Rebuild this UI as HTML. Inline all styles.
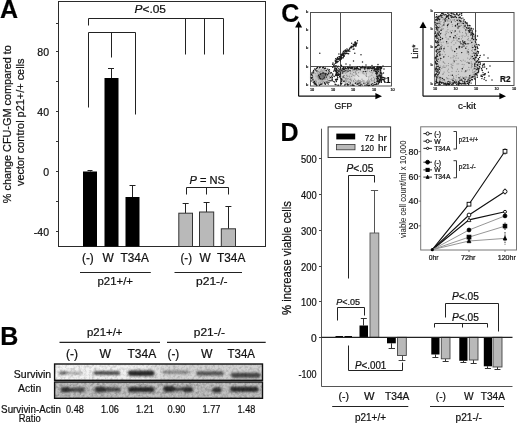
<!DOCTYPE html>
<html><head><meta charset="utf-8"><title>Figure</title>
<style>html,body{margin:0;padding:0;background:#fff;}svg{display:block;font-family:"Liberation Sans", sans-serif;filter:grayscale(1) blur(0.35px);}text{stroke:#111;stroke-width:0.22px;}</style>
</head><body>
<svg width="520" height="424" viewBox="0 0 520 424">
<rect width="520" height="424" fill="#fff"/>
<text x="0" y="17.8" font-size="25" text-anchor="start" font-weight="bold" fill="#000">A</text>
<rect x="58.5" y="1.5" width="207" height="245" fill="none" stroke="#2a2a2a" stroke-width="1"/>
<line x1="56" y1="23.5" x2="58.5" y2="23.5" stroke="#333" stroke-width="1"/>
<line x1="56" y1="51.5" x2="58.5" y2="51.5" stroke="#333" stroke-width="1"/>
<line x1="56" y1="81.5" x2="58.5" y2="81.5" stroke="#333" stroke-width="1"/>
<line x1="56" y1="111.5" x2="58.5" y2="111.5" stroke="#333" stroke-width="1"/>
<line x1="56" y1="141.5" x2="58.5" y2="141.5" stroke="#333" stroke-width="1"/>
<line x1="56" y1="171.5" x2="58.5" y2="171.5" stroke="#333" stroke-width="1"/>
<line x1="56" y1="201.5" x2="58.5" y2="201.5" stroke="#333" stroke-width="1"/>
<line x1="56" y1="231.5" x2="58.5" y2="231.5" stroke="#333" stroke-width="1"/>
<text x="49" y="56.0" font-size="10.5" text-anchor="end" font-weight="normal" fill="#111">80</text>
<text x="49" y="116.1" font-size="10.5" text-anchor="end" font-weight="normal" fill="#111">40</text>
<text x="49" y="176.3" font-size="10.5" text-anchor="end" font-weight="normal" fill="#111">0</text>
<text x="49" y="236.3" font-size="10.5" text-anchor="end" font-weight="normal" fill="#111">-40</text>
<text x="10.9" y="203.2" font-size="10.8" text-anchor="start" font-weight="normal" fill="#111" textLength="158" lengthAdjust="spacingAndGlyphs" transform="rotate(-90 10.9 203.2)">% change CFU-GM compared to</text>
<text x="23.9" y="186" font-size="10.8" text-anchor="start" font-weight="normal" fill="#111" textLength="127.5" lengthAdjust="spacingAndGlyphs" transform="rotate(-90 23.9 186)">vector control p21+/+ cells</text>
<rect x="83" y="171.5" width="14" height="75.0" fill="#000"/>
<rect x="104.5" y="78" width="14.0" height="168.5" fill="#000"/>
<rect x="125.5" y="197" width="14.0" height="49.5" fill="#000"/>
<line x1="90.5" y1="171.5" x2="90.5" y2="170" stroke="#222" stroke-width="1"/>
<line x1="87.5" y1="170.5" x2="92.5" y2="170.5" stroke="#222" stroke-width="1"/>
<line x1="111.5" y1="78" x2="111.5" y2="68" stroke="#222" stroke-width="1"/>
<line x1="108" y1="68.5" x2="114" y2="68.5" stroke="#222" stroke-width="1"/>
<line x1="132.5" y1="197" x2="132.5" y2="185.2" stroke="#222" stroke-width="1"/>
<line x1="129.5" y1="185.5" x2="135.5" y2="185.5" stroke="#222" stroke-width="1"/>
<line x1="185.5" y1="213.2" x2="185.5" y2="203" stroke="#222" stroke-width="1"/>
<line x1="182.65" y1="203.5" x2="188.65" y2="203.5" stroke="#222" stroke-width="1"/>
<rect x="178.8" y="213.2" width="13.7" height="33.3" fill="#b9b9b9" stroke="#333" stroke-width="1"/>
<line x1="206.5" y1="212" x2="206.5" y2="202" stroke="#222" stroke-width="1"/>
<line x1="203.6" y1="202.5" x2="209.6" y2="202.5" stroke="#222" stroke-width="1"/>
<rect x="199.5" y="212" width="14.2" height="34.5" fill="#b9b9b9" stroke="#333" stroke-width="1"/>
<line x1="228.5" y1="228.8" x2="228.5" y2="206.2" stroke="#222" stroke-width="1"/>
<line x1="225.4" y1="206.5" x2="231.4" y2="206.5" stroke="#222" stroke-width="1"/>
<rect x="221.3" y="228.8" width="14.2" height="17.7" fill="#b9b9b9" stroke="#333" stroke-width="1"/>
<polyline fill="none" stroke="#222" stroke-width="1" points="88.5,25.5 88.5,18.5 223.5,18.5"/>
<line x1="185.5" y1="18.5" x2="185.5" y2="54.5" stroke="#222" stroke-width="1"/>
<line x1="204.5" y1="18.5" x2="204.5" y2="54.5" stroke="#222" stroke-width="1"/>
<line x1="223.5" y1="18.5" x2="223.5" y2="54.5" stroke="#222" stroke-width="1"/>
<polyline fill="none" stroke="#222" stroke-width="1" points="88.5,107.5 88.5,32.5 135.5,32.5 135.5,114.5"/>
<line x1="111.5" y1="32.8" x2="111.5" y2="57.5" stroke="#222" stroke-width="1"/>
<text x="134.5" y="13" font-size="11.3" fill="#111" textLength="31.5" lengthAdjust="spacingAndGlyphs"><tspan font-style="italic">P</tspan>&lt;.05</text>
<polyline fill="none" stroke="#222" stroke-width="1" points="186.5,194.5 186.5,187.5 228.5,187.5 228.5,194.5"/>
<line x1="206.5" y1="187.5" x2="206.5" y2="194.5" stroke="#222" stroke-width="1"/>
<text x="189.5" y="183.8" font-size="11" fill="#111" textLength="35.5" lengthAdjust="spacingAndGlyphs"><tspan font-style="italic">P</tspan> = NS</text>
<text x="82" y="262" font-size="12" text-anchor="start" font-weight="normal" fill="#111" textLength="11.8" lengthAdjust="spacingAndGlyphs">(-)</text>
<text x="102.5" y="262" font-size="12" text-anchor="start" font-weight="normal" fill="#111" textLength="11.3" lengthAdjust="spacingAndGlyphs">W</text>
<text x="120.5" y="262" font-size="12" text-anchor="start" font-weight="normal" fill="#111" textLength="28.3" lengthAdjust="spacingAndGlyphs">T34A</text>
<text x="180.5" y="262" font-size="12" text-anchor="start" font-weight="normal" fill="#111" textLength="11.5" lengthAdjust="spacingAndGlyphs">(-)</text>
<text x="199.5" y="262" font-size="12" text-anchor="start" font-weight="normal" fill="#111" textLength="11.2" lengthAdjust="spacingAndGlyphs">W</text>
<text x="217" y="262" font-size="12" text-anchor="start" font-weight="normal" fill="#111" textLength="28.3" lengthAdjust="spacingAndGlyphs">T34A</text>
<line x1="80" y1="272.5" x2="150.8" y2="272.5" stroke="#222" stroke-width="1"/>
<line x1="174.5" y1="272.5" x2="242" y2="272.5" stroke="#222" stroke-width="1"/>
<text x="97.5" y="285" font-size="11.8" text-anchor="start" font-weight="normal" fill="#111" textLength="35.5" lengthAdjust="spacingAndGlyphs">p21+/+</text>
<text x="196" y="285" font-size="11.8" text-anchor="start" font-weight="normal" fill="#111" textLength="31.5" lengthAdjust="spacingAndGlyphs">p21-/-</text>
<text x="0.3" y="344.6" font-size="25" text-anchor="start" font-weight="bold" fill="#000">B</text>
<text x="87" y="336" font-size="11.6" text-anchor="start" font-weight="normal" fill="#111" textLength="35.5" lengthAdjust="spacingAndGlyphs">p21+/+</text>
<text x="193.8" y="336" font-size="11.6" text-anchor="start" font-weight="normal" fill="#111" textLength="31.2" lengthAdjust="spacingAndGlyphs">p21-/-</text>
<line x1="59.5" y1="342.3" x2="160" y2="342.3" stroke="#222" stroke-width="1.2"/>
<line x1="167" y1="342.3" x2="265.7" y2="342.3" stroke="#222" stroke-width="1.2"/>
<text x="66" y="357.5" font-size="12" text-anchor="start" font-weight="normal" fill="#111" textLength="12" lengthAdjust="spacingAndGlyphs">(-)</text>
<text x="99.5" y="357.5" font-size="12" text-anchor="start" font-weight="normal" fill="#111" textLength="11.5" lengthAdjust="spacingAndGlyphs">W</text>
<text x="127.5" y="357.5" font-size="12" text-anchor="start" font-weight="normal" fill="#111" textLength="28.7" lengthAdjust="spacingAndGlyphs">T34A</text>
<text x="167.5" y="357.5" font-size="12" text-anchor="start" font-weight="normal" fill="#111" textLength="11.8" lengthAdjust="spacingAndGlyphs">(-)</text>
<text x="201" y="357.5" font-size="12" text-anchor="start" font-weight="normal" fill="#111" textLength="11.5" lengthAdjust="spacingAndGlyphs">W</text>
<text x="227.5" y="357.5" font-size="12" text-anchor="start" font-weight="normal" fill="#111" textLength="27.5" lengthAdjust="spacingAndGlyphs">T34A</text>
<text x="13.8" y="378" font-size="10.6" text-anchor="start" font-weight="normal" fill="#111" textLength="37.4" lengthAdjust="spacingAndGlyphs">Survivin</text>
<text x="18" y="392" font-size="10.6" text-anchor="start" font-weight="normal" fill="#111" textLength="23.2" lengthAdjust="spacingAndGlyphs">Actin</text>
<text x="1.1" y="412.5" font-size="10" text-anchor="start" font-weight="normal" fill="#111" textLength="59.9" lengthAdjust="spacingAndGlyphs">Survivin-Actin</text>
<text x="18.8" y="422" font-size="10" text-anchor="start" font-weight="normal" fill="#111" textLength="22" lengthAdjust="spacingAndGlyphs">Ratio</text>
<text x="66" y="412.6" font-size="10.2" text-anchor="start" font-weight="normal" fill="#111" textLength="17.8" lengthAdjust="spacingAndGlyphs">0.48</text>
<text x="101" y="412.6" font-size="10.2" text-anchor="start" font-weight="normal" fill="#111" textLength="17.8" lengthAdjust="spacingAndGlyphs">1.06</text>
<text x="136" y="412.6" font-size="10.2" text-anchor="start" font-weight="normal" fill="#111" textLength="17.8" lengthAdjust="spacingAndGlyphs">1.21</text>
<text x="167.5" y="412.6" font-size="10.2" text-anchor="start" font-weight="normal" fill="#111" textLength="17.8" lengthAdjust="spacingAndGlyphs">0.90</text>
<text x="202.5" y="412.6" font-size="10.2" text-anchor="start" font-weight="normal" fill="#111" textLength="17.8" lengthAdjust="spacingAndGlyphs">1.77</text>
<text x="237.5" y="412.6" font-size="10.2" text-anchor="start" font-weight="normal" fill="#111" textLength="17.8" lengthAdjust="spacingAndGlyphs">1.48</text>
<defs><filter id="b1" x="-20%" y="-100%" width="140%" height="300%"><feGaussianBlur stdDeviation="1.3 1.0"/></filter><filter id="b2" x="-20%" y="-100%" width="140%" height="300%"><feGaussianBlur stdDeviation="0.8"/></filter><linearGradient id="sg" x1="0" x2="1"><stop offset="0" stop-color="#f6f6f6"/><stop offset="0.42" stop-color="#eeeeee"/><stop offset="0.55" stop-color="#d6d6d6"/><stop offset="1" stop-color="#cfcfcf"/></linearGradient><filter id="nz2" x="0" y="0" width="100%" height="100%"><feTurbulence type="fractalNoise" baseFrequency="0.38" numOctaves="2" seed="9"/><feColorMatrix type="matrix" values="0 0 0 0 0  0 0 0 0 0  0 0 0 0 0  0.42 0 0 0 -0.17"/></filter><filter id="nz" x="0" y="0" width="100%" height="100%"><feTurbulence type="fractalNoise" baseFrequency="0.38" numOctaves="2" seed="4"/><feColorMatrix type="matrix" values="0 0 0 0 0  0 0 0 0 0  0 0 0 0 0  0.55 0 0 0 -0.2"/></filter></defs>
<rect x="54.6" y="364" width="207.9" height="16.3" fill="url(#sg)"/>
<rect x="54.6" y="382" width="207.9" height="16.3" fill="#c2c2c2"/>
<g filter="url(#b1)">
<rect x="59" y="371.5" width="23" height="3" rx="1.5" fill="#aaa" opacity="1"/>
<rect x="59" y="371.5" width="8" height="3" rx="1.5" fill="#666" opacity="1"/>
<rect x="93.5" y="370.9" width="26.5" height="4.2" rx="2.1" fill="#555" opacity="1"/>
<rect x="128" y="370.45" width="26.5" height="5.5" rx="2.75" fill="#2a2a2a" opacity="1"/>
<rect x="162.5" y="370.5" width="26.5" height="3.6" rx="1.8" fill="#8a8a8a" opacity="1"/>
<rect x="196.2" y="371.2" width="27.5" height="4.4" rx="2.2" fill="#555" opacity="1"/>
<rect x="231" y="372.7" width="29.5" height="5" rx="2.5" fill="#444" opacity="1"/>
<rect x="60.5" y="387.8" width="24.5" height="4" rx="2.0" fill="#444" opacity="1"/>
<rect x="61" y="387.05" width="9" height="5.5" rx="2.75" fill="#333" opacity="1"/>
<rect x="78" y="387.75" width="6" height="4.5" rx="2.25" fill="#444" opacity="1"/>
<rect x="94.5" y="387.5" width="26.299999999999997" height="4" rx="2.0" fill="#444" opacity="1"/>
<rect x="95" y="386.75" width="11" height="5.5" rx="2.75" fill="#333" opacity="1"/>
<rect x="128" y="386.9" width="26.599999999999994" height="5.2" rx="2.6" fill="#2a2a2a" opacity="1"/>
<rect x="163.5" y="387.5" width="29.5" height="3.4" rx="1.7" fill="#444" opacity="1"/>
<rect x="163.5" y="386.0" width="11.5" height="6" rx="3.0" fill="#2a2a2a" opacity="1"/>
<rect x="183" y="386.85" width="10" height="5.5" rx="2.75" fill="#333" opacity="1"/>
<rect x="200" y="389.0" width="14" height="2" rx="1.0" fill="#aaa" opacity="1"/>
<rect x="212" y="387.5" width="9.599999999999994" height="5" rx="2.5" fill="#333" opacity="1"/>
<rect x="230" y="386.8" width="28.600000000000023" height="5" rx="2.5" fill="#2a2a2a" opacity="1"/>
</g>
<rect x="54.6" y="364" width="207.9" height="16.3" fill="#000" filter="url(#nz2)"/>
<rect x="54.6" y="382" width="207.9" height="16.3" fill="#000" filter="url(#nz)"/>
<rect x="54.6" y="364" width="207.9" height="16.3" fill="none" stroke="#111" stroke-width="1.4"/>
<rect x="54.6" y="382" width="207.9" height="16.3" fill="none" stroke="#111" stroke-width="1.4"/>
<text x="281.2" y="22.4" font-size="25" text-anchor="start" font-weight="bold" fill="#000">C</text>
<line x1="298.6" y1="96.2" x2="298.6" y2="25" stroke="#111" stroke-width="1.2"/>
<line x1="298.6" y1="96.2" x2="378" y2="96.2" stroke="#111" stroke-width="1.2"/>
<polygon points="298.6,21 295.1,27.6 302.1,27.6" fill="#000"/>
<polygon points="382,96.2 375.4,93.10000000000001 375.4,99.3" fill="#000"/>
<line x1="423" y1="96.2" x2="423" y2="25.5" stroke="#111" stroke-width="1.2"/>
<line x1="423" y1="96.2" x2="502" y2="96.2" stroke="#111" stroke-width="1.2"/>
<polygon points="423,21.5 419.5,28.1 426.5,28.1" fill="#000"/>
<polygon points="506,96.2 499.4,93.10000000000001 499.4,99.3" fill="#000"/>
<rect x="310.5" y="12.5" width="81" height="73.5" fill="none" stroke="#505050" stroke-width="1"/>
<line x1="340.5" y1="12.5" x2="340.5" y2="86" stroke="#505050" stroke-width="1"/>
<line x1="310.5" y1="66.5" x2="391.5" y2="66.5" stroke="#505050" stroke-width="1"/>
<rect x="434.5" y="12.5" width="79.5" height="73" fill="none" stroke="#505050" stroke-width="1"/>
<line x1="475.5" y1="12.5" x2="475.5" y2="85.5" stroke="#505050" stroke-width="1"/>
<line x1="434.5" y1="61.5" x2="514" y2="61.5" stroke="#505050" stroke-width="1"/>
<text x="306" y="12.7" font-size="4.1" text-anchor="start" font-weight="normal" fill="#333">b</text>
<text x="306" y="30.5" font-size="4.1" text-anchor="start" font-weight="normal" fill="#333">b</text>
<text x="306" y="49.2" font-size="4.1" text-anchor="start" font-weight="normal" fill="#333">b</text>
<text x="306" y="67.7" font-size="4.1" text-anchor="start" font-weight="normal" fill="#333">b</text>
<text x="306" y="85.7" font-size="4.1" text-anchor="start" font-weight="normal" fill="#333">b</text>
<text x="430.4" y="12.2" font-size="4.1" text-anchor="start" font-weight="normal" fill="#333">b</text>
<text x="430.4" y="29.7" font-size="4.1" text-anchor="start" font-weight="normal" fill="#333">b</text>
<text x="430.4" y="47.7" font-size="4.1" text-anchor="start" font-weight="normal" fill="#333">b</text>
<text x="430.4" y="65.7" font-size="4.1" text-anchor="start" font-weight="normal" fill="#333">b</text>
<text x="430.4" y="84.7" font-size="4.1" text-anchor="start" font-weight="normal" fill="#333">b</text>
<text x="310" y="90.6" font-size="3.8" text-anchor="start" font-weight="normal" fill="#333">10</text>
<text x="331" y="90.6" font-size="3.8" text-anchor="start" font-weight="normal" fill="#333">10</text>
<text x="351" y="90.6" font-size="3.8" text-anchor="start" font-weight="normal" fill="#333">10</text>
<text x="372" y="90.6" font-size="3.8" text-anchor="start" font-weight="normal" fill="#333">10</text>
<text x="390.5" y="90.6" font-size="3.8" text-anchor="start" font-weight="normal" fill="#333">10</text>
<text x="433" y="89.6" font-size="3.8" text-anchor="start" font-weight="normal" fill="#333">10</text>
<text x="453.5" y="89.6" font-size="3.8" text-anchor="start" font-weight="normal" fill="#333">10</text>
<text x="474" y="89.6" font-size="3.8" text-anchor="start" font-weight="normal" fill="#333">10</text>
<text x="494.5" y="89.6" font-size="3.8" text-anchor="start" font-weight="normal" fill="#333">10</text>
<text x="512" y="89.6" font-size="3.8" text-anchor="start" font-weight="normal" fill="#333">10</text>
<text x="334.5" y="109" font-size="8.8" text-anchor="start" font-weight="normal" fill="#111" textLength="17.8" lengthAdjust="spacingAndGlyphs">GFP</text>
<text x="458" y="109" font-size="8.8" text-anchor="start" font-weight="normal" fill="#111" textLength="18" lengthAdjust="spacingAndGlyphs">c-kit</text>
<text x="418" y="58.7" font-size="9" text-anchor="start" font-weight="normal" fill="#111" textLength="14" lengthAdjust="spacingAndGlyphs" transform="rotate(-90 418 58.7)">Lin*</text>
<text x="380.3" y="83" font-size="8.4" text-anchor="start" font-weight="bold" fill="#111" textLength="10.2" lengthAdjust="spacingAndGlyphs">R1</text>
<text x="500" y="82" font-size="8.4" text-anchor="start" font-weight="bold" fill="#111" textLength="10.5" lengthAdjust="spacingAndGlyphs">R2</text>
<g filter="url(#b2)">
<path d="M331.6,73.8 L331.7,74.7 L331.8,75.6 L331.7,76.5 L331.5,77.4 L331.3,78.3 L330.9,79.2 L330.4,80.0 L329.8,80.8 L329.1,81.6 L328.3,82.3 L327.4,82.9 L326.5,83.5 L325.5,84.0 L324.5,84.4 L323.4,84.7 L322.3,85.0 L321.2,85.1 L320.1,85.1 L319.1,85.1 L318.0,84.9 L317.0,84.7 L316.0,84.3 L315.1,83.9 L314.2,83.4 L313.5,82.8 L312.8,82.2 L312.2,81.5 L311.7,80.7 L311.3,79.9 L311.0,79.0 L310.9,78.1 L310.8,77.2 L310.9,76.3 L311.1,75.4 L311.3,74.5 L311.7,73.6 L312.2,72.8 L312.8,72.0 L313.5,71.2 L314.3,70.5 L315.2,69.9 L316.1,69.3 L317.1,68.8 L318.1,68.4 L319.2,68.1 L320.3,67.8 L321.4,67.7 L322.5,67.7 L323.5,67.7 L324.6,67.9 L325.6,68.1 L326.6,68.5 L327.5,68.9 L328.4,69.4 L329.1,70.0 L329.8,70.6 L330.4,71.3 L330.9,72.1 L331.3,72.9Z" fill="#cdcdcd"/>
<path d="M357.8,67.8 L362.2,67.8 L366.2,67.8 L369.7,67.9 L372.7,68.0 L375.2,68.2 L377.1,68.4 L378.6,68.7 L379.5,69.1 L380.0,69.5 L380.3,70.0 L380.7,70.6 L380.9,71.3 L381.1,72.1 L381.2,72.9 L381.3,73.9 L381.3,74.9 L381.2,76.1 L381.1,77.1 L380.9,78.1 L380.7,79.1 L380.4,80.0 L380.1,80.8 L379.7,81.6 L379.2,82.3 L378.8,83.0 L377.8,83.6 L376.4,84.1 L374.6,84.5 L372.4,84.8 L369.7,85.1 L366.6,85.3 L363.0,85.4 L359.0,85.4 L355.4,85.4 L352.3,85.2 L349.6,85.0 L347.4,84.8 L345.6,84.4 L344.2,84.0 L343.2,83.5 L342.8,83.0 L342.3,82.3 L341.9,81.6 L341.6,80.9 L341.3,80.0 L341.1,79.1 L340.9,78.1 L340.8,77.1 L340.8,75.9 L340.8,74.9 L340.8,73.9 L340.8,73.0 L340.9,72.2 L340.9,71.5 L341.1,70.8 L341.2,70.2 L341.4,69.8 L342.1,69.3 L343.4,68.9 L345.2,68.6 L347.5,68.3 L350.4,68.1 L353.8,67.9Z" fill="#d0d0d0"/>
<path d="M328.5,74.2 L328.6,74.6 L328.7,75.1 L328.6,75.6 L328.5,76.1 L328.4,76.6 L328.1,77.1 L327.8,77.6 L327.5,78.1 L327.0,78.5 L326.6,78.9 L326.1,79.3 L325.5,79.7 L324.9,80.0 L324.3,80.3 L323.7,80.5 L323.0,80.7 L322.3,80.8 L321.7,80.9 L321.0,80.9 L320.4,80.9 L319.7,80.8 L319.2,80.7 L318.6,80.5 L318.1,80.2 L317.6,80.0 L317.2,79.6 L316.8,79.3 L316.5,78.9 L316.3,78.5 L316.1,78.0 L316.0,77.6 L315.9,77.1 L316.0,76.6 L316.1,76.1 L316.2,75.6 L316.5,75.1 L316.8,74.6 L317.1,74.1 L317.6,73.7 L318.0,73.3 L318.5,72.9 L319.1,72.5 L319.7,72.2 L320.3,71.9 L320.9,71.7 L321.6,71.5 L322.3,71.4 L322.9,71.3 L323.6,71.3 L324.2,71.3 L324.9,71.4 L325.4,71.5 L326.0,71.7 L326.5,72.0 L327.0,72.2 L327.4,72.6 L327.8,72.9 L328.1,73.3 L328.3,73.7Z" fill="#b0b0b0"/>
<path d="M326.5,74.5 L326.6,74.7 L326.6,75.0 L326.6,75.3 L326.6,75.6 L326.5,75.9 L326.3,76.2 L326.1,76.5 L325.9,76.8 L325.6,77.0 L325.3,77.3 L325.0,77.5 L324.7,77.8 L324.3,78.0 L323.9,78.2 L323.5,78.3 L323.1,78.5 L322.7,78.6 L322.2,78.7 L321.8,78.7 L321.4,78.7 L321.0,78.7 L320.6,78.7 L320.3,78.6 L319.9,78.5 L319.6,78.4 L319.4,78.2 L319.1,78.0 L318.9,77.8 L318.8,77.6 L318.7,77.3 L318.6,77.1 L318.6,76.8 L318.6,76.5 L318.6,76.2 L318.7,75.9 L318.9,75.6 L319.1,75.3 L319.3,75.0 L319.6,74.8 L319.9,74.5 L320.2,74.3 L320.5,74.0 L320.9,73.8 L321.3,73.6 L321.7,73.5 L322.1,73.3 L322.5,73.2 L323.0,73.1 L323.4,73.1 L323.8,73.1 L324.2,73.1 L324.6,73.1 L324.9,73.2 L325.3,73.3 L325.6,73.4 L325.8,73.6 L326.1,73.8 L326.3,74.0 L326.4,74.2Z" fill="#6a6a6a"/>
<ellipse cx="362" cy="77.5" rx="9" ry="4" fill="#e2e2e2"/>
</g>
<g filter="url(#b2)">
<path d="M434.8,25.2 L434.8,23.8 L434.8,22.6 L434.9,21.5 L434.9,20.6 L435.0,19.8 L435.1,19.2 L435.2,18.7 L435.3,18.3 L435.5,18.2 L435.7,18.0 L436.0,17.7 L436.4,17.5 L436.8,17.2 L437.4,17.0 L437.9,16.7 L438.6,16.4 L439.4,16.1 L440.2,15.8 L441.0,15.5 L441.8,15.3 L442.7,15.1 L443.6,14.9 L444.5,14.7 L445.5,14.6 L446.5,14.4 L447.5,14.4 L448.5,14.3 L449.5,14.3 L450.5,14.3 L451.5,14.4 L452.5,14.5 L453.5,14.7 L454.5,14.8 L455.5,15.1 L456.5,15.5 L457.6,16.0 L458.7,16.5 L459.7,17.2 L460.8,17.9 L461.9,18.8 L463.1,19.7 L464.2,20.7 L465.2,21.8 L466.3,22.9 L467.3,24.0 L468.3,25.2 L469.3,26.5 L470.3,27.8 L471.2,29.2 L472.1,30.6 L472.9,32.0 L473.6,33.5 L474.2,35.0 L474.7,36.5 L475.2,38.1 L475.6,39.7 L475.9,41.3 L476.2,42.9 L476.4,44.5 L476.6,46.1 L476.7,47.7 L476.8,49.2 L476.8,50.7 L476.8,52.2 L476.7,53.8 L476.7,55.2 L476.8,56.5 L476.9,57.8 L477.0,59.0 L477.2,60.1 L477.5,61.1 L477.8,62.1 L478.2,62.9 L478.5,63.8 L478.8,64.6 L478.9,65.5 L479.1,66.3 L479.1,67.1 L479.1,67.9 L479.1,68.6 L478.9,69.4 L478.8,70.1 L478.5,70.9 L478.2,71.7 L477.8,72.5 L477.4,73.4 L476.9,74.2 L476.3,75.1 L475.7,75.9 L475.0,76.8 L474.3,77.6 L473.5,78.3 L472.6,79.1 L471.7,79.8 L470.8,80.4 L469.8,81.0 L468.7,81.6 L467.6,82.1 L466.3,82.6 L464.9,83.0 L463.5,83.3 L461.9,83.6 L460.2,83.9 L458.4,84.0 L456.6,84.2 L454.7,84.3 L452.9,84.4 L451.0,84.4 L449.2,84.5 L447.4,84.6 L445.6,84.6 L443.9,84.6 L442.1,84.6 L440.6,84.6 L439.2,84.5 L438.1,84.5 L437.1,84.4 L436.4,84.3 L435.8,84.2 L435.5,84.1 L435.3,84.0 L435.2,83.5 L435.1,82.7 L435.0,81.5 L434.9,79.9 L434.9,78.0 L434.8,75.8 L434.8,73.2 L434.8,70.3 L434.8,67.2 L434.8,64.1 L434.8,60.9 L434.8,57.5 L434.8,54.1 L434.8,50.5 L434.8,46.9 L434.8,43.1 L434.8,39.7 L434.8,36.5 L434.8,33.7 L434.8,31.1 L434.8,28.8 L434.8,26.9Z" fill="#cfcfcf"/>
</g>
<path d="M328.8,74.7h.01M329.4,76.4h.01M329.4,78.2h.01M327.5,79.9h.01M327.3,82.2h.01M325.4,81.9h.01M322.7,82.9h.01M320.2,82.1h.01M318.6,83.2h.01M316.1,82.3h.01M315.8,80.3h.01M313.5,80.2h.01M313.1,78.2h.01M312.9,76.3h.01M312.8,73.5h.01M315.2,73.7h.01M316.6,70.7h.01M318.7,69.0h.01M321.1,69.9h.01M323.0,70.8h.01M325.1,70.4h.01M326.7,71.1h.01M328.4,72.5h.01M328.6,74.1h.01M357.9,70.5h.01M360.1,70.6h.01M363.0,73.5h.01M364.9,69.3h.01M367.3,70.9h.01M369.7,71.4h.01M372.4,72.9h.01M374.5,69.8h.01M376.5,71.3h.01M378.6,71.3h.01M378.5,71.7h.01M377.5,73.6h.01M376.8,74.9h.01M377.7,77.8h.01M376.0,78.3h.01M378.5,82.4h.01M376.8,81.6h.01M373.8,80.8h.01M371.9,80.9h.01M369.7,81.2h.01M367.6,82.1h.01M365.7,83.2h.01M363.2,81.0h.01M360.4,80.9h.01M358.3,82.6h.01M356.3,81.8h.01M353.7,81.4h.01M351.2,80.3h.01M348.9,81.4h.01M346.9,81.0h.01M345.7,80.1h.01M346.0,80.2h.01M345.5,78.8h.01M344.3,77.7h.01M344.4,75.6h.01M345.7,73.1h.01M344.2,71.6h.01M343.5,71.8h.01M346.1,71.8h.01M347.7,71.6h.01M350.7,71.5h.01M352.4,70.8h.01M355.3,72.4h.01M356.8,70.5h.01M367.6,84.7h.01M360.4,82.4h.01M368.8,82.7h.01M359.2,80.6h.01M364.1,73.9h.01M350.8,79.0h.01M345.9,83.6h.01M348.4,69.4h.01M346.9,83.9h.01M355.8,71.3h.01M344.1,69.7h.01M368.6,79.1h.01M368.8,80.8h.01M345.4,78.4h.01M356.4,82.1h.01M373.3,83.3h.01M345.4,82.9h.01M376.8,84.1h.01M347.0,72.3h.01M347.1,69.6h.01M374.4,82.0h.01M366.5,82.2h.01M366.4,73.6h.01M346.7,70.6h.01M371.0,72.3h.01M354.8,75.8h.01M343.8,73.1h.01M353.5,80.5h.01M356.6,74.1h.01M378.7,77.1h.01M374.5,78.9h.01M344.1,75.6h.01M359.1,81.4h.01M355.8,80.3h.01M362.9,72.5h.01M374.9,70.5h.01M373.3,71.7h.01M343.0,72.2h.01M371.2,84.6h.01M343.2,76.9h.01M361.2,81.7h.01M349.8,76.9h.01M355.8,82.3h.01M352.6,84.1h.01M353.5,72.4h.01M368.9,77.0h.01M347.1,79.2h.01M346.0,81.6h.01M368.8,81.6h.01M366.2,74.7h.01M357.8,75.3h.01M375.9,70.4h.01M375.9,69.4h.01M350.6,73.2h.01M376.3,77.0h.01M357.0,83.1h.01M351.6,76.4h.01M362.7,81.1h.01M370.9,79.3h.01M355.9,74.2h.01M348.7,82.5h.01M367.5,80.9h.01M349.3,76.0h.01M371.6,78.3h.01M347.7,76.4h.01M375.7,72.8h.01M350.1,73.8h.01M369.0,82.5h.01M348.7,71.5h.01M352.2,74.2h.01M362.3,71.6h.01M355.1,72.0h.01M379.1,80.7h.01M346.8,84.4h.01M346.8,75.1h.01M379.4,81.7h.01M370.1,76.0h.01M350.3,79.2h.01M347.0,72.3h.01M357.4,69.5h.01M357.8,81.7h.01M368.7,77.0h.01M366.4,76.4h.01M348.2,78.7h.01M358.0,80.9h.01M376.6,75.9h.01M364.2,81.0h.01M358.6,72.7h.01M369.7,83.1h.01M371.6,80.2h.01M374.5,79.9h.01M366.7,76.3h.01M354.6,79.1h.01M346.6,75.7h.01M371.9,80.4h.01M366.3,73.0h.01M358.7,76.3h.01M366.0,75.5h.01M368.0,83.9h.01M349.8,79.5h.01M371.8,75.2h.01M361.1,84.6h.01M344.4,77.7h.01M349.0,81.5h.01M377.8,77.3h.01M346.7,78.2h.01M363.0,80.5h.01M362.0,79.2h.01M373.7,77.3h.01M358.2,84.2h.01M350.8,79.9h.01M357.5,81.2h.01M347.5,84.8h.01M356.2,69.9h.01M353.2,75.4h.01M343.5,75.7h.01M358.6,80.2h.01M356.0,73.2h.01M351.3,80.9h.01M377.8,77.4h.01M316.2,81.8h.01M319.4,72.4h.01M314.5,81.4h.01M327.4,79.1h.01M320.9,78.0h.01M316.3,84.4h.01M318.7,79.2h.01M327.6,82.1h.01M320.9,73.7h.01M322.4,71.0h.01M327.8,74.7h.01M328.2,73.3h.01M319.1,73.1h.01M320.1,72.0h.01M312.1,80.5h.01M317.3,72.9h.01M317.7,76.7h.01M320.1,79.2h.01M324.5,74.8h.01M313.1,82.2h.01M314.7,82.3h.01M324.0,69.2h.01M324.5,73.0h.01M313.9,71.3h.01M316.4,81.4h.01M318.6,71.4h.01M315.2,83.3h.01M323.6,81.5h.01M324.7,83.3h.01M327.0,82.4h.01M315.8,80.1h.01M322.1,80.9h.01M320.3,83.1h.01M322.5,73.2h.01M316.4,71.2h.01M321.4,69.9h.01M320.9,71.3h.01M321.3,77.0h.01M322.3,82.8h.01M320.9,78.0h.01M324.6,82.4h.01M319.1,75.7h.01M324.1,79.2h.01M312.5,78.8h.01M325.0,83.9h.01M318.3,84.7h.01M321.7,76.8h.01M325.6,79.0h.01M318.4,82.8h.01M319.0,76.6h.01M322.0,81.3h.01M316.0,76.0h.01M320.0,77.9h.01M439.1,25.2h.01M440.3,23.1h.01M439.4,21.4h.01M439.4,20.2h.01M438.9,20.9h.01M440.9,21.6h.01M442.8,19.8h.01M444.4,21.3h.01M446.1,19.6h.01M447.7,21.1h.01M450.0,19.5h.01M450.8,20.2h.01M452.9,19.9h.01M454.3,19.6h.01M455.5,21.6h.01M458.1,19.9h.01M459.2,21.9h.01M459.6,23.6h.01M460.8,25.6h.01M463.4,25.9h.01M464.4,28.3h.01M466.6,28.6h.01M465.6,32.2h.01M466.5,33.6h.01M465.0,36.4h.01M468.1,36.4h.01M468.4,38.4h.01M471.7,39.0h.01M472.1,41.1h.01M470.0,43.5h.01M472.2,45.2h.01M471.8,47.0h.01M472.8,49.6h.01M472.5,51.1h.01M472.2,53.6h.01M470.9,55.9h.01M470.4,58.5h.01M471.3,61.9h.01M472.1,64.5h.01M471.8,65.8h.01M476.4,66.6h.01M474.0,68.2h.01M473.8,69.1h.01M472.5,70.1h.01M472.7,72.2h.01M473.4,74.6h.01M470.8,75.1h.01M469.8,76.2h.01M468.7,77.4h.01M467.0,77.8h.01M465.5,79.7h.01M462.5,77.2h.01M461.2,78.8h.01M459.8,78.6h.01M456.9,80.1h.01M455.3,79.7h.01M453.0,80.9h.01M451.2,79.4h.01M448.9,78.8h.01M447.1,78.8h.01M444.5,80.0h.01M442.0,78.0h.01M439.7,77.8h.01M438.7,76.8h.01M437.1,77.9h.01M439.2,81.8h.01M440.2,79.7h.01M438.1,78.1h.01M437.6,76.1h.01M443.3,73.6h.01M438.9,71.8h.01M441.8,68.5h.01M439.0,67.3h.01M438.1,64.4h.01M439.0,62.0h.01M440.4,60.1h.01M440.3,58.2h.01M439.4,55.8h.01M439.8,53.8h.01M438.4,51.0h.01M440.0,49.7h.01M439.4,47.8h.01M441.2,44.5h.01M441.1,42.7h.01M440.4,40.7h.01M438.7,38.0h.01M439.7,36.0h.01M438.1,34.0h.01M438.6,31.7h.01M440.2,30.0h.01M440.1,27.4h.01M468.3,49.4h.01M440.9,30.3h.01M468.6,54.6h.01M438.9,76.7h.01M464.1,25.9h.01M470.3,31.2h.01M447.1,39.0h.01M461.7,61.1h.01M438.7,65.6h.01M466.8,46.5h.01M469.3,69.8h.01M435.5,46.7h.01M469.6,63.3h.01M468.0,25.8h.01M446.9,43.6h.01M455.9,81.3h.01M472.5,38.5h.01M468.8,67.4h.01M441.5,28.8h.01M446.0,31.9h.01M436.8,22.7h.01M455.7,42.9h.01M439.0,54.3h.01M453.1,63.0h.01M457.3,25.5h.01M453.9,81.3h.01M474.1,72.3h.01M467.7,58.1h.01M445.0,67.4h.01M450.3,31.2h.01M465.0,27.1h.01M435.8,51.0h.01M472.0,32.3h.01M443.8,62.4h.01M435.2,29.3h.01M448.5,63.5h.01M440.8,79.4h.01M452.1,50.1h.01M451.3,42.6h.01M459.4,31.4h.01M437.8,19.0h.01M443.3,19.5h.01M466.8,62.5h.01M448.4,69.2h.01M472.2,37.3h.01M460.1,26.4h.01M437.6,23.9h.01M470.3,40.4h.01M475.7,69.9h.01M439.8,54.6h.01M444.8,63.3h.01M476.0,69.2h.01M446.8,19.6h.01M468.8,53.1h.01M442.0,26.7h.01M467.3,30.1h.01M448.2,43.1h.01M462.2,64.4h.01M436.6,64.4h.01M446.3,33.6h.01M467.6,62.1h.01M466.4,77.0h.01M445.4,35.1h.01M468.8,31.5h.01M443.0,29.1h.01M474.3,71.7h.01M451.1,64.2h.01M437.8,56.3h.01M439.5,16.5h.01M461.2,23.7h.01M458.5,27.0h.01M441.1,49.0h.01M461.6,38.8h.01M471.5,50.6h.01M438.6,40.5h.01M459.7,30.9h.01M469.1,28.8h.01M451.2,46.9h.01M471.3,67.7h.01M454.0,44.7h.01M458.2,58.2h.01M449.2,15.7h.01M441.6,46.1h.01M466.6,34.3h.01M438.5,66.3h.01M474.3,44.1h.01M439.4,41.0h.01M439.8,81.4h.01M437.6,33.5h.01M440.4,18.0h.01M443.4,50.8h.01M443.9,67.3h.01M456.7,37.0h.01M441.3,30.2h.01M448.2,65.6h.01M459.1,80.9h.01M465.8,33.5h.01M458.7,63.8h.01M444.9,81.0h.01M440.5,70.8h.01M452.3,30.6h.01M448.0,46.3h.01M443.8,65.9h.01M452.4,26.3h.01M456.3,71.3h.01M435.5,67.2h.01M465.9,76.9h.01M478.3,71.1h.01M448.6,39.0h.01M454.1,38.1h.01M454.3,20.8h.01M446.6,77.6h.01M455.9,58.1h.01M447.5,78.3h.01M472.1,66.6h.01M468.5,40.0h.01M462.5,36.9h.01M469.5,59.3h.01M437.4,74.8h.01M462.9,45.4h.01M452.3,68.6h.01M474.9,74.8h.01M445.9,37.2h.01M447.7,20.1h.01M451.7,14.8h.01M438.6,17.8h.01M458.6,41.5h.01M450.8,57.9h.01M450.9,75.1h.01M465.0,71.9h.01M461.4,47.4h.01M456.2,75.5h.01M468.9,27.8h.01M453.5,38.8h.01M441.4,77.9h.01M436.8,55.0h.01M457.1,63.9h.01M456.9,19.6h.01M461.7,71.2h.01M475.2,38.3h.01M446.3,65.9h.01M457.1,40.0h.01M471.2,79.0h.01M445.3,34.4h.01M451.8,65.0h.01M444.5,51.8h.01M460.5,60.5h.01M442.3,80.9h.01M473.7,74.7h.01M453.4,78.6h.01M445.6,14.7h.01M460.6,76.8h.01M461.1,79.2h.01M463.6,23.2h.01M467.2,70.0h.01M456.6,55.7h.01M448.2,32.6h.01M456.4,49.4h.01M458.9,19.6h.01M435.3,37.2h.01M471.6,66.1h.01M447.1,31.1h.01M461.4,25.5h.01M465.7,77.2h.01M445.3,54.6h.01M471.8,66.2h.01M471.3,63.5h.01M448.9,72.5h.01M439.4,17.9h.01M475.6,61.1h.01M442.2,45.7h.01M452.1,67.4h.01M447.5,27.1h.01M443.2,42.1h.01M466.5,34.5h.01M443.3,28.5h.01M439.3,26.7h.01M451.1,48.8h.01M444.4,47.1h.01M457.4,82.1h.01M459.8,80.1h.01M459.0,27.1h.01M465.2,23.3h.01M443.6,18.2h.01M455.6,38.1h.01M456.7,38.0h.01M470.2,40.8h.01M442.8,74.4h.01M478.3,64.7h.01M453.1,57.7h.01M457.1,34.2h.01M463.3,60.1h.01M442.4,39.0h.01M478.4,69.2h.01M465.1,61.1h.01M452.3,80.1h.01M463.0,41.6h.01M444.3,21.2h.01M436.4,35.9h.01M459.5,48.2h.01M453.5,76.6h.01M452.8,50.8h.01M459.3,36.6h.01M454.7,56.2h.01M453.9,40.5h.01M453.5,77.8h.01M462.5,32.6h.01M452.0,71.3h.01M443.2,62.0h.01M436.1,26.7h.01M438.0,70.2h.01M442.5,29.2h.01M437.9,31.7h.01M472.4,64.1h.01M463.1,78.5h.01M439.6,78.7h.01M457.1,26.7h.01M473.2,74.0h.01M454.7,19.6h.01M465.4,82.4h.01M471.1,57.7h.01M440.7,24.5h.01M444.2,56.3h.01M453.4,82.5h.01M457.2,40.8h.01M447.9,29.5h.01M444.2,23.8h.01M452.9,65.3h.01M438.0,50.6h.01M457.4,69.2h.01M464.4,45.1h.01M452.2,41.1h.01M442.3,25.4h.01M454.5,62.0h.01M435.2,69.9h.01M475.1,49.6h.01M435.3,69.7h.01M456.1,60.5h.01M464.1,64.7h.01M455.8,81.2h.01M466.4,35.5h.01M454.2,32.1h.01M475.2,71.3h.01M451.2,66.8h.01M448.4,56.4h.01M443.1,73.9h.01M459.9,32.5h.01M442.6,67.0h.01M464.2,77.4h.01M464.9,43.3h.01M449.1,21.1h.01M472.0,31.2h.01M472.2,59.1h.01M440.0,48.1h.01M468.4,32.7h.01M453.9,78.3h.01M456.8,53.6h.01M476.2,66.9h.01M458.3,74.3h.01M455.5,80.5h.01M459.1,21.4h.01M467.5,39.7h.01M447.7,70.9h.01M436.7,46.9h.01M439.4,73.4h.01M458.7,46.3h.01M471.7,64.8h.01M452.5,79.2h.01M444.5,22.7h.01M444.5,48.5h.01M452.2,24.6h.01M467.2,50.8h.01M440.0,77.9h.01M476.1,61.4h.01M458.6,71.4h.01M443.2,61.6h.01M463.3,41.8h.01M443.6,22.7h.01M459.0,48.0h.01M448.7,39.1h.01M463.3,67.1h.01M465.1,24.5h.01M442.2,54.3h.01M462.9,35.3h.01M436.5,27.5h.01M441.3,33.2h.01M467.1,53.0h.01M453.5,80.4h.01M467.3,51.6h.01M453.4,55.9h.01M450.3,81.8h.01M447.5,82.1h.01M463.2,27.6h.01M460.9,21.4h.01M469.9,78.8h.01M437.5,43.3h.01M456.2,77.1h.01M465.1,71.5h.01M435.7,27.4h.01M444.1,72.1h.01M440.2,79.2h.01M448.6,75.5h.01M461.3,36.0h.01M440.6,66.0h.01M448.8,23.5h.01M453.6,60.0h.01" stroke="#858585" stroke-width="1.2" stroke-linecap="round" fill="none" opacity="0.85"/>
<path d="M332.7,74.0h.01M332.7,75.0h.01M331.8,76.3h.01M332.3,77.5h.01M332.1,78.1h.01M332.1,79.8h.01M330.8,80.8h.01M329.1,80.8h.01M328.9,82.4h.01M328.3,84.1h.01M327.2,83.1h.01M325.0,83.5h.01M325.4,84.3h.01M321.9,84.0h.01M321.1,84.3h.01M320.3,84.4h.01M319.5,85.2h.01M316.8,85.5h.01M315.6,84.6h.01M314.3,83.9h.01M314.2,82.9h.01M313.3,82.1h.01M311.1,81.0h.01M311.1,77.7h.01M311.4,74.8h.01M311.7,73.9h.01M312.1,72.7h.01M313.2,71.6h.01M313.6,70.5h.01M314.7,68.9h.01M315.6,69.9h.01M316.4,68.4h.01M317.1,67.9h.01M317.6,67.2h.01M319.6,67.8h.01M320.4,67.1h.01M322.6,67.8h.01M323.5,67.2h.01M324.3,68.4h.01M325.5,68.3h.01M326.3,70.4h.01M327.7,69.1h.01M329.3,69.7h.01M328.8,70.3h.01M329.2,71.6h.01M330.3,73.0h.01M331.4,72.7h.01M330.5,77.5h.01M326.9,81.9h.01M324.5,82.6h.01M316.4,84.1h.01M315.3,83.3h.01M314.5,81.5h.01M312.9,79.7h.01M311.7,78.6h.01M312.3,77.2h.01M312.2,75.2h.01M313.6,72.7h.01M317.0,70.9h.01M325.4,68.2h.01M328.6,73.2h.01M327.5,74.7h.01M325.6,75.1h.01M326.4,77.1h.01M324.3,77.3h.01M323.9,78.6h.01M322.6,79.1h.01M321.0,79.0h.01M320.3,78.5h.01M319.3,77.8h.01M319.3,76.4h.01M318.5,75.3h.01M320.2,74.5h.01M321.0,73.7h.01M322.6,73.1h.01M323.4,73.0h.01M325.0,73.7h.01M326.0,73.7h.01M357.5,66.8h.01M358.5,69.1h.01M359.3,66.6h.01M360.8,68.3h.01M362.2,67.6h.01M362.7,66.4h.01M364.1,67.9h.01M364.7,68.9h.01M365.9,67.9h.01M367.3,67.9h.01M368.2,68.1h.01M369.0,67.3h.01M370.6,67.4h.01M371.5,68.5h.01M372.0,68.3h.01M373.1,68.6h.01M374.5,68.3h.01M375.0,68.5h.01M376.6,69.0h.01M377.9,66.5h.01M378.8,68.4h.01M379.0,69.5h.01M380.3,70.4h.01M380.8,71.0h.01M381.1,72.6h.01M381.8,73.4h.01M381.8,73.8h.01M381.7,75.0h.01M381.4,76.6h.01M382.3,77.2h.01M380.5,77.6h.01M382.3,79.3h.01M381.2,80.6h.01M379.3,81.3h.01M379.5,82.2h.01M378.6,83.1h.01M378.2,84.0h.01M376.6,83.6h.01M376.7,84.5h.01M375.3,84.5h.01M374.0,84.8h.01M372.9,85.5h.01M371.5,84.7h.01M369.7,85.2h.01M368.7,85.5h.01M367.8,85.2h.01M366.6,84.9h.01M365.0,85.2h.01M362.1,85.1h.01M360.9,84.3h.01M360.3,85.6h.01M359.0,85.3h.01M357.1,84.3h.01M354.0,85.6h.01M353.0,84.9h.01M350.9,85.1h.01M348.8,84.8h.01M347.7,85.0h.01M347.4,84.0h.01M345.2,84.8h.01M344.7,84.9h.01M341.4,83.9h.01M344.5,81.1h.01M341.6,81.2h.01M341.9,80.3h.01M341.5,79.4h.01M341.0,78.5h.01M340.1,77.6h.01M340.6,76.1h.01M340.5,74.7h.01M340.0,74.1h.01M340.0,73.0h.01M342.4,72.9h.01M341.5,70.8h.01M340.7,69.0h.01M342.0,69.1h.01M343.1,67.9h.01M344.4,69.7h.01M345.2,68.1h.01M346.1,68.8h.01M347.4,67.7h.01M348.4,68.5h.01M350.0,67.8h.01M350.5,68.3h.01M351.2,67.5h.01M352.2,68.8h.01M354.0,69.8h.01M354.5,68.5h.01M355.7,68.5h.01M356.6,67.6h.01M357.8,68.5h.01M363.8,71.6h.01M365.7,71.4h.01M367.7,68.7h.01M371.6,70.6h.01M375.1,71.1h.01M377.6,69.7h.01M380.2,72.8h.01M379.1,75.2h.01M379.8,76.3h.01M379.4,80.6h.01M377.9,81.4h.01M374.8,82.5h.01M372.2,83.6h.01M367.9,83.2h.01M363.9,83.2h.01M359.7,83.0h.01M358.1,83.4h.01M355.4,83.3h.01M352.4,85.3h.01M350.3,83.0h.01M343.7,81.3h.01M341.9,79.2h.01M343.1,76.9h.01M340.7,72.9h.01M342.4,71.0h.01M344.0,71.4h.01M345.8,70.8h.01M350.0,70.4h.01M354.2,69.4h.01M356.1,69.6h.01M379.0,79.3h.01M376.9,72.8h.01M376.8,74.3h.01M378.3,81.6h.01M376.4,71.6h.01M375.5,71.4h.01M377.5,76.3h.01M380.7,78.7h.01M381.2,80.2h.01M379.1,75.0h.01M379.8,66.6h.01M378.8,69.4h.01M380.6,76.7h.01M377.1,78.7h.01M380.5,76.1h.01M376.9,76.2h.01M377.5,77.1h.01M375.9,69.8h.01M377.3,78.3h.01M376.5,68.1h.01M378.5,78.5h.01M378.8,80.7h.01M377.3,79.3h.01M376.8,78.7h.01M376.9,71.2h.01M377.7,73.0h.01M377.5,76.4h.01M380.1,81.0h.01M380.6,67.1h.01M379.1,68.3h.01M379.2,80.7h.01M376.0,73.4h.01M380.2,75.7h.01M378.5,81.0h.01M380.4,72.9h.01M378.0,68.1h.01M377.5,68.9h.01M377.3,66.7h.01M381.2,68.4h.01M378.4,81.5h.01M381.6,68.5h.01M380.3,66.8h.01M378.0,77.9h.01M376.9,69.4h.01M381.4,77.6h.01M379.3,79.8h.01M378.2,76.2h.01M377.5,77.5h.01M374.0,70.4h.01M379.4,81.4h.01M378.2,66.7h.01M378.0,76.6h.01M378.6,71.3h.01M377.6,77.8h.01M380.2,74.0h.01M381.6,67.4h.01M376.6,73.3h.01M380.1,77.0h.01M380.4,72.1h.01M381.0,76.5h.01M376.9,72.5h.01M376.9,78.7h.01M381.4,75.3h.01M377.2,71.0h.01M383.1,77.4h.01M380.2,79.3h.01M377.0,81.7h.01M380.6,79.4h.01M377.0,73.1h.01M377.3,80.3h.01M357.1,67.9h.01M377.8,68.7h.01M374.3,67.3h.01M352.5,67.4h.01M358.9,69.0h.01M377.5,68.3h.01M343.7,68.3h.01M376.7,69.0h.01M364.9,67.6h.01M374.3,69.4h.01M369.4,68.2h.01M345.4,67.8h.01M364.1,67.5h.01M372.0,68.0h.01M379.3,67.5h.01M369.1,68.8h.01M360.6,67.5h.01M372.0,68.1h.01M373.7,67.8h.01M374.3,67.4h.01M372.9,67.5h.01M377.9,68.7h.01M377.4,68.5h.01M365.6,67.5h.01M349.6,67.5h.01M370.0,67.9h.01M356.5,68.3h.01M362.7,67.7h.01M348.0,70.9h.01M357.0,68.3h.01M346.2,68.6h.01M348.2,68.7h.01M365.9,68.0h.01M342.8,68.4h.01M343.3,69.5h.01M361.5,67.4h.01M364.7,67.4h.01M359.0,69.2h.01M379.9,67.5h.01M380.5,69.3h.01M352.2,68.0h.01M349.2,67.5h.01M345.3,68.6h.01M376.8,67.7h.01M360.3,69.6h.01M344.6,68.1h.01M365.9,67.7h.01M380.4,67.6h.01M352.3,68.7h.01M380.3,67.9h.01M368.8,68.2h.01M348.4,68.0h.01M380.6,68.1h.01M343.5,67.3h.01M352.2,68.7h.01M378.2,69.2h.01M375.5,69.1h.01M370.4,67.9h.01M367.9,67.7h.01M347.8,67.3h.01M372.2,68.8h.01M354.0,67.9h.01M365.7,67.3h.01M355.0,67.8h.01M352.3,68.2h.01M348.7,68.2h.01M351.5,68.3h.01M342.5,68.6h.01M370.7,67.4h.01M379.1,67.6h.01M341.8,83.1h.01M338.1,66.1h.01M338.3,73.7h.01M333.8,71.3h.01M337.7,77.5h.01M334.2,67.1h.01M336.6,79.3h.01M337.3,75.9h.01M339.4,69.7h.01M340.2,72.9h.01M338.0,71.2h.01M337.8,70.8h.01M341.3,65.2h.01M340.7,83.2h.01M335.7,74.3h.01M335.1,70.2h.01M336.4,71.8h.01M338.0,85.3h.01M341.7,66.1h.01M336.4,70.2h.01M337.1,79.6h.01M336.0,70.3h.01M336.4,71.3h.01M336.6,75.3h.01M338.8,68.7h.01M335.4,67.9h.01M336.0,80.6h.01M336.1,65.7h.01M335.0,65.9h.01M334.4,69.9h.01M334.8,68.4h.01M333.8,81.4h.01M334.2,76.5h.01M336.8,79.8h.01M337.3,72.8h.01M336.4,81.4h.01M335.7,71.2h.01M339.0,74.6h.01M332.6,64.3h.01M335.1,69.7h.01M338.2,71.9h.01M340.5,67.5h.01M334.4,64.1h.01M338.7,75.2h.01M333.9,66.6h.01M337.4,79.4h.01M338.4,70.9h.01M332.3,79.3h.01M333.7,65.3h.01M339.1,75.0h.01M335.7,75.4h.01M336.0,84.8h.01M336.4,68.8h.01M336.9,69.4h.01M337.5,79.0h.01M336.7,68.2h.01M339.6,76.4h.01M336.8,75.2h.01M335.5,79.4h.01M337.6,74.6h.01M336.8,74.8h.01M336.3,72.7h.01M337.7,66.9h.01M332.7,67.2h.01M334.0,76.3h.01M335.1,84.2h.01M334.7,82.1h.01M338.0,75.3h.01M332.2,80.7h.01M339.8,71.3h.01M336.6,73.4h.01M338.6,85.1h.01M350.7,47.5h.01M356.3,44.7h.01M343.2,53.8h.01M345.2,53.6h.01M346.1,53.6h.01M356.2,44.1h.01M345.5,51.3h.01M351.8,47.1h.01M340.4,57.3h.01M345.5,53.7h.01M338.9,56.7h.01M355.5,43.7h.01M349.8,51.3h.01M357.0,42.9h.01M344.5,53.0h.01M336.7,61.2h.01M344.0,54.6h.01M336.9,59.0h.01M347.2,49.2h.01M337.8,58.6h.01M345.1,51.0h.01M340.2,56.8h.01M346.6,51.5h.01M335.4,61.3h.01M341.4,56.9h.01M340.0,58.3h.01M351.5,47.8h.01M354.3,45.2h.01M343.0,53.3h.01M337.2,61.3h.01M354.0,48.9h.01M343.0,55.2h.01M351.8,46.7h.01M349.5,48.1h.01M342.7,53.9h.01M352.9,46.5h.01M335.9,63.1h.01M343.7,54.6h.01M343.2,55.2h.01M345.4,49.9h.01M345.4,53.7h.01M341.9,54.0h.01M340.9,57.1h.01M343.0,52.3h.01M341.2,57.9h.01M348.6,53.8h.01M342.9,57.8h.01M353.9,44.2h.01M356.0,45.2h.01M346.9,48.9h.01M351.7,43.2h.01M344.7,50.8h.01M342.7,54.2h.01M343.3,57.8h.01M345.4,53.5h.01M343.8,53.5h.01M353.4,46.8h.01M343.7,51.2h.01M338.9,53.9h.01M337.5,58.1h.01M356.0,45.9h.01M354.3,44.3h.01M354.4,44.2h.01M336.7,59.5h.01M347.0,53.2h.01M349.1,49.5h.01M356.0,42.9h.01M343.1,55.0h.01M348.7,50.3h.01M353.2,44.6h.01M337.5,57.5h.01M340.1,56.8h.01M355.5,41.9h.01M336.2,61.7h.01M338.2,61.5h.01M346.4,53.3h.01M350.8,47.1h.01M351.6,46.7h.01M343.8,56.4h.01M337.1,62.4h.01M341.0,54.8h.01M335.6,63.2h.01M354.8,42.2h.01M340.3,60.8h.01M354.3,44.8h.01M355.1,46.1h.01M357.5,40.7h.01M339.6,56.6h.01M340.3,57.6h.01M347.4,53.6h.01M337.1,59.0h.01M356.8,43.2h.01M338.2,59.5h.01M342.9,55.5h.01M353.1,45.9h.01M339.1,59.0h.01M335.7,61.7h.01M336.6,59.7h.01M339.6,57.9h.01M343.5,55.3h.01M335.7,58.6h.01M344.2,56.3h.01M355.5,43.1h.01M344.3,55.3h.01M341.4,59.1h.01M341.4,55.7h.01M340.6,59.2h.01M345.2,51.8h.01M351.3,46.2h.01M348.2,51.2h.01M337.1,62.4h.01M343.5,56.3h.01M346.3,50.8h.01M341.9,58.0h.01M339.6,59.9h.01M341.9,55.1h.01M353.2,49.3h.01M335.3,60.3h.01M349.8,48.8h.01M342.4,53.7h.01M338.0,58.7h.01M347.4,50.7h.01M355.4,44.5h.01M333.0,62.9h.01M338.7,58.6h.01M319.8,53.3h.01M354.8,53.3h.01M361.0,54.8h.01M353.5,61.0h.01M362.5,62.0h.01M346.0,64.0h.01M350.0,65.0h.01M366.0,65.0h.01M372.0,65.5h.01M378.0,64.5h.01M383.0,66.0h.01M384.0,69.0h.01M383.5,73.0h.01M435.1,22.5h.01M435.9,17.2h.01M436.7,16.7h.01M438.1,16.1h.01M439.8,16.0h.01M440.7,15.0h.01M442.2,15.1h.01M442.9,13.5h.01M444.2,14.9h.01M445.8,14.4h.01M446.9,15.7h.01M447.8,13.3h.01M450.2,15.6h.01M451.2,13.3h.01M453.0,13.7h.01M454.0,14.3h.01M455.1,15.0h.01M456.7,14.6h.01M458.0,14.9h.01M458.7,15.6h.01M459.4,17.2h.01M460.3,17.2h.01M461.2,18.5h.01M462.9,18.1h.01M464.1,19.8h.01M463.4,21.1h.01M465.2,21.7h.01M465.3,22.6h.01M466.9,22.8h.01M467.1,23.7h.01M467.7,25.7h.01M470.0,25.8h.01M468.6,28.2h.01M470.9,28.3h.01M471.5,28.5h.01M471.0,30.0h.01M472.4,30.9h.01M472.0,32.8h.01M472.9,33.4h.01M473.6,34.3h.01M475.3,35.3h.01M475.1,36.7h.01M475.4,38.0h.01M475.2,39.1h.01M476.4,39.7h.01M475.2,41.1h.01M475.6,42.2h.01M476.4,44.2h.01M478.2,44.6h.01M477.1,46.2h.01M477.4,47.4h.01M477.8,48.4h.01M475.7,49.1h.01M477.3,51.3h.01M478.5,51.8h.01M476.8,53.0h.01M476.9,54.4h.01M477.5,55.4h.01M476.4,57.1h.01M475.7,57.7h.01M478.3,58.7h.01M478.7,59.8h.01M476.9,61.4h.01M478.3,62.8h.01M480.4,63.0h.01M477.9,65.1h.01M479.4,66.4h.01M480.0,67.1h.01M479.1,68.7h.01M478.7,68.8h.01M478.6,70.1h.01M478.5,72.0h.01M477.2,72.7h.01M476.8,74.5h.01M477.2,75.6h.01M477.3,77.2h.01M474.4,76.1h.01M474.3,78.1h.01M472.1,77.2h.01M472.4,79.8h.01M471.7,79.4h.01M470.6,80.7h.01M469.4,82.0h.01M467.8,81.8h.01M467.3,83.4h.01M465.9,84.1h.01M464.5,82.7h.01M464.1,83.7h.01M462.7,83.6h.01M461.5,84.0h.01M459.9,83.5h.01M458.7,84.9h.01M456.6,84.2h.01M455.6,83.0h.01M452.9,84.7h.01M450.1,83.3h.01M449.7,84.2h.01M446.3,85.0h.01M440.1,84.4h.01M438.6,84.6h.01M436.1,83.1h.01M435.2,84.0h.01M435.8,81.2h.01M436.5,80.0h.01M435.0,76.5h.01M435.0,75.5h.01M435.1,74.5h.01M436.3,68.4h.01M436.3,63.3h.01M435.1,57.9h.01M435.6,57.1h.01M436.7,54.9h.01M436.1,51.1h.01M436.4,50.1h.01M435.8,46.7h.01M435.6,40.7h.01M435.5,36.5h.01M436.7,35.4h.01M436.9,34.2h.01M435.6,32.0h.01M436.2,27.8h.01M437.1,23.4h.01M435.0,22.1h.01M437.4,20.6h.01M436.8,20.1h.01M436.4,19.2h.01M438.0,18.3h.01M439.6,19.5h.01M441.1,16.0h.01M446.3,17.4h.01M447.3,16.5h.01M448.3,15.4h.01M450.5,15.8h.01M451.3,17.6h.01M452.5,17.0h.01M454.2,16.9h.01M455.4,16.6h.01M456.4,17.4h.01M459.0,17.7h.01M459.6,20.4h.01M460.7,20.9h.01M463.0,23.2h.01M463.4,23.5h.01M466.5,23.1h.01M467.6,25.1h.01M466.5,27.6h.01M467.3,28.1h.01M469.2,28.0h.01M469.8,29.9h.01M471.0,33.1h.01M472.3,33.2h.01M472.7,35.2h.01M472.7,36.3h.01M472.5,37.9h.01M473.5,39.4h.01M474.6,45.9h.01M475.1,46.6h.01M475.5,47.5h.01M474.9,49.8h.01M475.3,53.4h.01M474.5,55.3h.01M475.2,57.2h.01M474.6,58.9h.01M474.8,60.1h.01M477.4,60.6h.01M474.9,63.4h.01M477.2,64.4h.01M477.5,65.6h.01M477.3,67.9h.01M476.7,69.6h.01M478.6,71.2h.01M477.8,72.8h.01M475.3,73.7h.01M475.1,74.4h.01M473.0,76.7h.01M471.8,77.2h.01M469.9,77.9h.01M469.2,80.4h.01M467.6,80.1h.01M464.7,81.2h.01M459.2,82.2h.01M456.3,82.3h.01M454.8,82.8h.01M454.0,82.6h.01M449.8,81.9h.01M448.8,84.4h.01M447.4,83.7h.01M445.7,83.5h.01M444.0,83.3h.01M443.0,82.6h.01M441.8,83.2h.01M440.4,82.1h.01M437.4,82.8h.01M436.1,83.0h.01M436.8,82.5h.01M436.3,80.9h.01M436.4,79.8h.01M437.0,77.6h.01M436.8,76.6h.01M436.4,73.7h.01M437.2,72.3h.01M437.5,71.1h.01M435.4,69.0h.01M436.8,66.3h.01M436.2,64.2h.01M435.7,63.3h.01M436.4,60.3h.01M436.1,58.9h.01M435.8,57.5h.01M437.5,53.6h.01M436.4,51.6h.01M437.6,49.5h.01M436.4,38.0h.01M435.2,33.4h.01M436.7,28.6h.01M437.1,26.6h.01M436.2,25.5h.01M438.5,18.8h.01M445.3,18.6h.01M446.5,17.0h.01M448.7,18.5h.01M453.8,17.2h.01M457.2,20.5h.01M460.9,21.8h.01M465.0,26.3h.01M468.6,30.8h.01M469.7,32.2h.01M470.8,35.0h.01M472.0,38.6h.01M471.8,42.4h.01M472.8,47.4h.01M473.9,53.0h.01M472.3,56.4h.01M474.9,64.2h.01M474.6,64.9h.01M474.9,66.4h.01M474.9,68.6h.01M472.9,76.4h.01M469.7,75.7h.01M468.7,79.1h.01M465.0,79.2h.01M463.6,78.3h.01M462.0,80.2h.01M460.1,80.2h.01M458.7,81.8h.01M456.4,82.1h.01M453.0,80.4h.01M444.0,79.7h.01M439.8,81.1h.01M437.5,82.4h.01M437.7,75.0h.01M439.0,72.9h.01M439.6,69.3h.01M439.8,67.4h.01M437.4,56.2h.01M439.9,54.1h.01M438.9,52.2h.01M438.3,44.1h.01M437.9,32.9h.01M436.9,29.7h.01M438.7,27.8h.01M441.7,13.4h.01M451.5,13.2h.01M459.9,14.0h.01M469.3,25.5h.01M473.2,29.0h.01M475.7,31.0h.01M477.5,35.9h.01M479.3,45.1h.01M478.3,53.1h.01M480.2,55.5h.01M479.6,57.5h.01M479.2,62.2h.01M482.9,67.2h.01M482.3,70.4h.01M475.0,79.2h.01M471.1,83.1h.01M463.7,83.7h.01M465.1,25.8h.01M468.2,51.9h.01M452.4,75.3h.01M448.0,24.5h.01M443.8,25.0h.01M462.3,68.7h.01M443.9,48.7h.01M461.7,52.6h.01M454.7,51.4h.01M437.7,18.9h.01M455.2,30.9h.01M469.5,31.2h.01M441.0,47.0h.01M453.7,37.5h.01M469.9,29.9h.01M465.8,70.9h.01M456.5,48.7h.01M476.7,55.5h.01M444.8,19.7h.01M440.5,37.2h.01M440.8,58.5h.01M455.2,35.7h.01M459.0,77.8h.01M447.5,25.4h.01M450.1,36.7h.01M476.1,62.3h.01M455.4,26.1h.01M439.0,23.2h.01M473.4,58.4h.01M443.7,56.9h.01M439.5,49.0h.01M451.4,21.9h.01M468.9,63.0h.01M459.0,26.3h.01M465.8,44.0h.01M446.6,41.7h.01M445.5,20.9h.01M466.6,81.6h.01M451.4,32.8h.01M465.8,29.9h.01M454.2,61.1h.01M455.5,25.4h.01M440.0,51.4h.01M441.3,48.7h.01M458.0,28.0h.01M465.8,48.2h.01M471.8,34.6h.01M477.2,69.6h.01M457.4,24.5h.01M457.8,23.5h.01M463.3,42.7h.01M458.9,38.7h.01M459.2,47.3h.01M463.0,44.3h.01M461.0,43.7h.01M462.7,40.9h.01M460.2,42.0h.01M464.8,41.7h.01M464.6,43.0h.01M468.0,43.8h.01M462.1,47.0h.01M463.9,46.1h.01M459.6,46.5h.01M465.7,43.8h.01M436.9,42.7h.01M435.5,19.9h.01M435.6,40.9h.01M442.5,38.5h.01M442.5,78.4h.01M436.7,56.7h.01M441.3,82.4h.01M439.9,55.2h.01M441.1,30.3h.01M438.8,39.8h.01M435.8,42.2h.01M439.4,32.0h.01M435.7,35.7h.01M439.0,45.3h.01M435.5,61.8h.01M436.9,35.6h.01M438.8,69.0h.01M436.9,51.9h.01M440.4,33.8h.01M438.6,42.3h.01M437.0,36.6h.01M439.2,72.3h.01M438.1,49.6h.01M435.6,47.5h.01M437.5,41.2h.01M436.4,67.9h.01M438.1,66.5h.01M436.0,69.9h.01M437.5,61.2h.01M437.3,63.8h.01M439.2,35.4h.01M438.0,19.2h.01M436.5,81.9h.01M439.8,82.2h.01M436.1,71.3h.01M435.8,24.3h.01M438.1,70.7h.01M435.7,41.9h.01M438.9,35.2h.01M440.1,77.4h.01M435.8,74.3h.01M437.6,45.4h.01M437.8,38.2h.01M437.3,27.7h.01M435.7,36.0h.01M440.6,39.4h.01M438.2,74.5h.01M437.8,30.0h.01M437.4,69.2h.01M436.5,77.9h.01M436.5,46.7h.01M438.6,34.2h.01M437.8,18.4h.01M437.7,17.7h.01M437.3,42.1h.01M435.6,62.9h.01M438.1,59.2h.01M435.6,62.5h.01M436.0,58.2h.01M435.9,74.7h.01M459.6,14.6h.01M441.7,15.7h.01M444.0,14.7h.01M436.5,14.6h.01M451.5,16.0h.01M449.0,14.3h.01M443.8,14.3h.01M446.5,16.3h.01M438.6,16.8h.01M461.6,13.5h.01M442.0,17.5h.01M451.1,13.6h.01M456.6,13.6h.01M457.0,13.7h.01M448.2,17.0h.01M461.7,15.2h.01M443.7,84.1h.01M457.2,84.1h.01M454.6,81.6h.01M449.2,84.4h.01M444.8,83.9h.01M461.6,79.9h.01M439.1,82.8h.01M451.7,84.6h.01M439.2,84.5h.01M439.1,83.4h.01M453.3,83.4h.01M445.8,84.0h.01M469.4,82.8h.01M441.8,82.7h.01M448.6,84.5h.01M465.3,83.8h.01M448.2,81.4h.01M447.4,83.1h.01M445.7,83.2h.01M438.9,83.1h.01M439.9,84.2h.01M458.3,83.2h.01M447.2,84.3h.01M464.7,83.7h.01M468.5,83.2h.01M448.3,83.8h.01M458.5,84.1h.01M458.6,83.1h.01M443.9,84.1h.01M462.9,81.7h.01M448.7,83.8h.01M460.9,83.5h.01M468.7,84.4h.01M459.2,83.8h.01M452.1,82.9h.01M483.0,72.6h.01M480.1,64.5h.01M482.3,76.5h.01M484.8,74.7h.01M484.0,74.7h.01M481.2,75.2h.01M484.5,73.9h.01M481.5,68.4h.01M481.1,76.3h.01M479.0,68.2h.01M483.1,64.2h.01M483.0,74.8h.01M484.1,64.9h.01M482.5,65.7h.01M476.0,73.8h.01M484.2,64.1h.01M485.3,73.8h.01M488.4,72.2h.01M486.6,68.7h.01M481.9,78.6h.01M484.7,77.6h.01M482.0,69.9h.01M484.7,66.9h.01M484.4,64.0h.01M477.4,68.2h.01M484.1,79.2h.01M492.0,80.0h.01M489.0,76.0h.01M486.0,80.5h.01M488.0,58.0h.01M484.0,55.0h.01M490.0,66.0h.01" stroke="#1c1c1c" stroke-width="1.45" stroke-linecap="round" fill="none"/>
<text x="280.6" y="141" font-size="25" text-anchor="start" font-weight="bold" fill="#000">D</text>
<line x1="321.5" y1="128.7" x2="321.5" y2="386.5" stroke="#555" stroke-width="1"/>
<line x1="321.4" y1="386.5" x2="512.5" y2="386.5" stroke="#555" stroke-width="1"/>
<line x1="319.0" y1="158.5" x2="321.4" y2="158.5" stroke="#444" stroke-width="1"/>
<text x="316.6" y="163.39999999999998" font-size="10.2" text-anchor="end" font-weight="normal" fill="#111" textLength="15.6" lengthAdjust="spacingAndGlyphs">500</text>
<line x1="319.0" y1="194.5" x2="321.4" y2="194.5" stroke="#444" stroke-width="1"/>
<text x="316.6" y="199.1" font-size="10.2" text-anchor="end" font-weight="normal" fill="#111" textLength="15.6" lengthAdjust="spacingAndGlyphs">400</text>
<line x1="319.0" y1="230.5" x2="321.4" y2="230.5" stroke="#444" stroke-width="1"/>
<text x="316.6" y="234.79999999999998" font-size="10.2" text-anchor="end" font-weight="normal" fill="#111" textLength="15.6" lengthAdjust="spacingAndGlyphs">300</text>
<line x1="319.0" y1="266.5" x2="321.4" y2="266.5" stroke="#444" stroke-width="1"/>
<text x="316.6" y="270.5" font-size="10.2" text-anchor="end" font-weight="normal" fill="#111" textLength="15.6" lengthAdjust="spacingAndGlyphs">200</text>
<line x1="319.0" y1="301.5" x2="321.4" y2="301.5" stroke="#444" stroke-width="1"/>
<text x="316.6" y="306.2" font-size="10.2" text-anchor="end" font-weight="normal" fill="#111" textLength="15.6" lengthAdjust="spacingAndGlyphs">100</text>
<line x1="319.0" y1="337.5" x2="321.4" y2="337.5" stroke="#444" stroke-width="1"/>
<text x="316.6" y="341.9" font-size="10.2" text-anchor="end" font-weight="normal" fill="#111">0</text>
<text x="316.6" y="378.2" font-size="10.2" text-anchor="end" font-weight="normal" fill="#111" textLength="18" lengthAdjust="spacingAndGlyphs">-100</text>
<text x="290.7" y="315" font-size="12" text-anchor="start" font-weight="normal" fill="#111" textLength="114" lengthAdjust="spacingAndGlyphs" transform="rotate(-90 290.7 315)">% increase viable cells</text>
<rect x="328.1" y="126.9" width="62.5" height="30.6" fill="#fff" stroke="#333" stroke-width="1"/>
<rect x="336.3" y="133.6" width="18.9" height="5.8" fill="#000"/>
<rect x="336.5" y="144.4" width="18.5" height="5.4" fill="#b9b9b9" stroke="#333" stroke-width="0.8"/>
<text x="364.8" y="140.7" font-size="9.5" text-anchor="start" font-weight="normal" fill="#111" textLength="9.2" lengthAdjust="spacingAndGlyphs">72</text>
<text x="378" y="140.7" font-size="9.5" text-anchor="start" font-weight="normal" fill="#111" textLength="8.9" lengthAdjust="spacingAndGlyphs">hr</text>
<text x="360.6" y="150.8" font-size="9.5" text-anchor="start" font-weight="normal" fill="#111" textLength="13.4" lengthAdjust="spacingAndGlyphs">120</text>
<text x="378" y="150.8" font-size="9.5" text-anchor="start" font-weight="normal" fill="#111" textLength="8.9" lengthAdjust="spacingAndGlyphs">hr</text>
<rect x="335.5" y="336" width="7.5" height="1.5" fill="#000"/>
<rect x="344.5" y="336" width="7.5" height="1.5" fill="#000"/>
<line x1="363.5" y1="325.5" x2="363.5" y2="318" stroke="#333" stroke-width="1"/>
<line x1="360.8" y1="318.5" x2="366.8" y2="318.5" stroke="#333" stroke-width="1"/>
<rect x="359.5" y="325.5" width="8.5" height="11.8" fill="#000"/>
<line x1="374.5" y1="233" x2="374.5" y2="190" stroke="#555" stroke-width="1"/>
<line x1="370.9" y1="190.5" x2="378.1" y2="190.5" stroke="#555" stroke-width="1"/>
<rect x="370" y="233" width="8.8" height="104.3" fill="#b9b9b9" stroke="#555" stroke-width="0.9"/>
<line x1="391.5" y1="343.3" x2="391.5" y2="348.8" stroke="#333" stroke-width="1"/>
<line x1="388.6" y1="348.5" x2="395.0" y2="348.5" stroke="#333" stroke-width="1"/>
<rect x="387" y="337.3" width="8.8" height="6.0" fill="#000"/>
<line x1="402.5" y1="355.5" x2="402.5" y2="360" stroke="#444" stroke-width="1"/>
<line x1="398.6" y1="360.5" x2="405.4" y2="360.5" stroke="#444" stroke-width="1"/>
<rect x="397.5" y="337.3" width="8.8" height="18.2" fill="#b9b9b9" stroke="#444" stroke-width="0.9"/>
<line x1="435.5" y1="354.5" x2="435.5" y2="357" stroke="#333" stroke-width="1"/>
<line x1="432.4" y1="357.5" x2="438.4" y2="357.5" stroke="#333" stroke-width="1"/>
<rect x="431.3" y="337.3" width="8.2" height="17.2" fill="#000"/>
<line x1="445.5" y1="358.8" x2="445.5" y2="361.3" stroke="#333" stroke-width="1"/>
<line x1="442.65" y1="361.5" x2="448.65" y2="361.5" stroke="#333" stroke-width="1"/>
<rect x="441.3" y="337.3" width="8.7" height="21.5" fill="#b9b9b9" stroke="#444" stroke-width="0.9"/>
<line x1="463.5" y1="360.8" x2="463.5" y2="362.5" stroke="#333" stroke-width="1"/>
<line x1="460.4" y1="362.5" x2="466.4" y2="362.5" stroke="#333" stroke-width="1"/>
<rect x="459.3" y="337.3" width="8.2" height="23.5" fill="#000"/>
<line x1="473.5" y1="360" x2="473.5" y2="363.8" stroke="#333" stroke-width="1"/>
<line x1="470.65" y1="363.5" x2="476.65" y2="363.5" stroke="#333" stroke-width="1"/>
<rect x="469.3" y="337.3" width="8.7" height="22.7" fill="#b9b9b9" stroke="#444" stroke-width="0.9"/>
<line x1="487.5" y1="366.3" x2="487.5" y2="368.3" stroke="#333" stroke-width="1"/>
<line x1="484.9" y1="368.5" x2="490.9" y2="368.5" stroke="#333" stroke-width="1"/>
<rect x="483.8" y="337.3" width="8.2" height="29.0" fill="#000"/>
<line x1="497.5" y1="367" x2="497.5" y2="369.3" stroke="#333" stroke-width="1"/>
<line x1="494.5" y1="369.5" x2="500.5" y2="369.5" stroke="#333" stroke-width="1"/>
<rect x="493" y="337.3" width="9" height="29.7" fill="#b9b9b9" stroke="#444" stroke-width="0.9"/>
<line x1="321.4" y1="337.4" x2="512.5" y2="337.4" stroke="#222" stroke-width="1.2"/>
<polyline fill="none" stroke="#222" stroke-width="1" points="348.5,278.5 348.5,175.5 374.5,175.5 374.5,182.5"/>
<text x="346.5" y="172.3" font-size="10.3" fill="#111" textLength="26.8" lengthAdjust="spacingAndGlyphs"><tspan font-style="italic">P</tspan>&lt;.05</text>
<polyline fill="none" stroke="#222" stroke-width="1" points="337.5,320.5 337.5,307.5 364.5,307.5 364.5,315.5"/>
<text x="336.3" y="305" font-size="9.3" fill="#111" textLength="23.8" lengthAdjust="spacingAndGlyphs"><tspan font-style="italic">P</tspan>&lt;.05</text>
<polyline fill="none" stroke="#222" stroke-width="1" points="348.5,345.5 348.5,370.5 402.5,370.5 402.5,362.5"/>
<text x="355" y="368.8" font-size="10" fill="#111" textLength="31.3" lengthAdjust="spacingAndGlyphs"><tspan font-style="italic">P</tspan>&lt;.001</text>
<polyline fill="none" stroke="#222" stroke-width="1" points="434.5,327.5 434.5,323.5 487.5,323.5 487.5,327.5"/>
<line x1="462.5" y1="323.8" x2="462.5" y2="327.5" stroke="#222" stroke-width="1"/>
<text x="452" y="321.3" font-size="10" fill="#111" textLength="26.8" lengthAdjust="spacingAndGlyphs"><tspan font-style="italic">P</tspan>&lt;.05</text>
<polyline fill="none" stroke="#222" stroke-width="1" points="445.5,317.5 445.5,303.5 498.5,303.5 498.5,331.5"/>
<text x="452" y="300" font-size="10" fill="#111" textLength="26.8" lengthAdjust="spacingAndGlyphs"><tspan font-style="italic">P</tspan>&lt;.05</text>
<text x="338.5" y="400" font-size="10.4" text-anchor="start" font-weight="normal" fill="#111" textLength="10.5" lengthAdjust="spacingAndGlyphs">(-)</text>
<text x="364" y="400" font-size="10.4" text-anchor="start" font-weight="normal" fill="#111" textLength="10.5" lengthAdjust="spacingAndGlyphs">W</text>
<text x="385" y="400" font-size="10.4" text-anchor="start" font-weight="normal" fill="#111" textLength="24.4" lengthAdjust="spacingAndGlyphs">T34A</text>
<text x="435.8" y="400" font-size="10.4" text-anchor="start" font-weight="normal" fill="#111" textLength="10.2" lengthAdjust="spacingAndGlyphs">(-)</text>
<text x="464" y="400" font-size="10.4" text-anchor="start" font-weight="normal" fill="#111" textLength="9.6" lengthAdjust="spacingAndGlyphs">W</text>
<text x="480.8" y="400" font-size="10.4" text-anchor="start" font-weight="normal" fill="#111" textLength="24.2" lengthAdjust="spacingAndGlyphs">T34A</text>
<line x1="332.2" y1="406.5" x2="408.3" y2="406.5" stroke="#222" stroke-width="1"/>
<line x1="430" y1="406.5" x2="504" y2="406.5" stroke="#222" stroke-width="1"/>
<text x="355" y="421" font-size="10.4" text-anchor="start" font-weight="normal" fill="#111" textLength="31" lengthAdjust="spacingAndGlyphs">p21+/+</text>
<text x="455.5" y="421" font-size="10.4" text-anchor="start" font-weight="normal" fill="#111" textLength="26.5" lengthAdjust="spacingAndGlyphs">p21-/-</text>
<rect x="420.7" y="126.8" width="95.80000000000001" height="123.2" fill="#fff" stroke="#777" stroke-width="1"/>
<line x1="418.7" y1="225.85" x2="420.7" y2="225.85" stroke="#555" stroke-width="0.8"/>
<text x="418.3" y="229.04999999999998" font-size="8.8" text-anchor="end" font-weight="normal" fill="#111">20</text>
<line x1="418.7" y1="201.1" x2="420.7" y2="201.1" stroke="#555" stroke-width="0.8"/>
<text x="418.3" y="204.29999999999998" font-size="8.8" text-anchor="end" font-weight="normal" fill="#111">40</text>
<line x1="418.7" y1="176.35" x2="420.7" y2="176.35" stroke="#555" stroke-width="0.8"/>
<text x="418.3" y="179.54999999999998" font-size="8.8" text-anchor="end" font-weight="normal" fill="#111">60</text>
<line x1="418.7" y1="151.6" x2="420.7" y2="151.6" stroke="#555" stroke-width="0.8"/>
<text x="418.3" y="154.79999999999998" font-size="8.8" text-anchor="end" font-weight="normal" fill="#111">80</text>
<text x="405.9" y="238" font-size="8.6" text-anchor="start" font-weight="normal" fill="#111" textLength="97.5" lengthAdjust="spacingAndGlyphs" transform="rotate(-90 405.9 238)" style="stroke:none">viable cell count/ml x 10,000</text>
<line x1="469" y1="250" x2="469" y2="252" stroke="#555" stroke-width="0.8"/>
<line x1="505" y1="250" x2="505" y2="252" stroke="#555" stroke-width="0.8"/>
<text x="428.7" y="259.8" font-size="7.6" text-anchor="start" font-weight="normal" fill="#111" textLength="9.8" lengthAdjust="spacingAndGlyphs">0hr</text>
<text x="461" y="259.8" font-size="7.6" text-anchor="start" font-weight="normal" fill="#111" textLength="14.5" lengthAdjust="spacingAndGlyphs">72hr</text>
<text x="497.8" y="259.8" font-size="7.6" text-anchor="start" font-weight="normal" fill="#111" textLength="18" lengthAdjust="spacingAndGlyphs">120hr</text>
<polyline fill="none" stroke="#111" stroke-width="1.15" points="432.3,249.7 469,204.2 505,151.3"/>
<polyline fill="none" stroke="#111" stroke-width="1.15" points="432.3,249.7 469,215 505,191.5"/>
<polyline fill="none" stroke="#111" stroke-width="1.15" points="432.3,249.7 469,219.9 505,211.8"/>
<polyline fill="none" stroke="#8a8a8a" stroke-width="0.9" points="432.3,249.7 469,230 505,215.9"/>
<polyline fill="none" stroke="#8a8a8a" stroke-width="0.9" points="432.3,249.7 469,237.1 505,226.1"/>
<polyline fill="none" stroke="#8a8a8a" stroke-width="0.9" points="432.3,249.7 469,241 505,238.4"/>
<line x1="505" y1="148.3" x2="505" y2="154.5" stroke="#111" stroke-width="0.9"/>
<line x1="505" y1="188.5" x2="505" y2="194.5" stroke="#111" stroke-width="0.9"/>
<line x1="505" y1="232" x2="505" y2="244.6" stroke="#222" stroke-width="0.9" stroke-dasharray="1.6 0.8"/>
<line x1="505" y1="222.5" x2="505" y2="230" stroke="#222" stroke-width="0.9"/>
<circle cx="432.3" cy="249.7" r="1.6" fill="#000"/>
<rect x="467.1" y="202.3" width="3.8" height="3.8" fill="#fff" stroke="#000" stroke-width="0.9"/>
<circle cx="469" cy="215.0" r="1.9" fill="#fff" stroke="#000" stroke-width="0.9"/>
<polygon points="469,217.6 467.1,221.6 470.9,221.6" fill="#fff" stroke="#000" stroke-width="0.8"/>
<circle cx="469" cy="230.0" r="1.9" fill="#000" stroke="#000" stroke-width="0.9"/>
<rect x="467.1" y="235.2" width="3.8" height="3.8" fill="#000" stroke="#000" stroke-width="0.9"/>
<polygon points="469,238.7 467.1,242.7 470.9,242.7" fill="#000" stroke="#000" stroke-width="0.8"/>
<rect x="503.1" y="149.4" width="3.8" height="3.8" fill="#fff" stroke="#000" stroke-width="0.9"/>
<circle cx="505" cy="191.5" r="2.0" fill="#fff" stroke="#000" stroke-width="0.9"/>
<circle cx="505" cy="211.8" r="1.5" fill="#fff" stroke="#000" stroke-width="0.9"/>
<circle cx="505" cy="215.9" r="1.9" fill="#000" stroke="#000" stroke-width="0.9"/>
<rect x="503.2" y="224.3" width="3.6" height="3.6" fill="#000" stroke="#000" stroke-width="0.9"/>
<polygon points="505,236.2 503.2,240.0 506.8,240.0" fill="#000" stroke="#000" stroke-width="0.8"/>
<line x1="423.4" y1="133.6" x2="432" y2="133.6" stroke="#111" stroke-width="0.9"/>
<circle cx="427.6" cy="133.6" r="1.6" fill="#fff" stroke="#000" stroke-width="0.9"/>
<text x="434.2" y="135.9" font-size="6.8" text-anchor="start" font-weight="normal" fill="#111">(-)</text>
<line x1="423.4" y1="141.2" x2="432" y2="141.2" stroke="#111" stroke-width="0.9"/>
<circle cx="427.6" cy="141.2" r="1.6" fill="#fff" stroke="#000" stroke-width="0.9"/>
<text x="434.2" y="143.5" font-size="6.8" text-anchor="start" font-weight="normal" fill="#111">W</text>
<line x1="423.4" y1="148.4" x2="432" y2="148.4" stroke="#111" stroke-width="0.9"/>
<circle cx="427.6" cy="148.4" r="1.1" fill="#fff" stroke="#000" stroke-width="0.9"/>
<text x="434.2" y="150.70000000000002" font-size="6.8" text-anchor="start" font-weight="normal" fill="#111">T34A</text>
<line x1="423.4" y1="162.2" x2="432" y2="162.2" stroke="#111" stroke-width="0.9"/>
<circle cx="427.6" cy="162.2" r="1.9" fill="#000" stroke="#000" stroke-width="0.9"/>
<text x="434.2" y="164.5" font-size="6.8" text-anchor="start" font-weight="normal" fill="#111">(-)</text>
<line x1="423.4" y1="169.9" x2="432" y2="169.9" stroke="#111" stroke-width="0.9"/>
<rect x="426.0" y="168.3" width="3.2" height="3.2" fill="#000" stroke="#000" stroke-width="0.9"/>
<text x="434.2" y="172.20000000000002" font-size="6.8" text-anchor="start" font-weight="normal" fill="#111">W</text>
<line x1="423.4" y1="177.1" x2="432" y2="177.1" stroke="#111" stroke-width="0.9"/>
<polygon points="427.6,175.2 426.1,178.4 429.1,178.4" fill="#000" stroke="#000" stroke-width="0.8"/>
<text x="434.2" y="179.4" font-size="6.8" text-anchor="start" font-weight="normal" fill="#111">T34A</text>
<polyline fill="none" stroke="#222" stroke-width="0.9" points="453.5,131.5 456.5,131.5 456.5,149 453.5,149"/>
<polyline fill="none" stroke="#222" stroke-width="0.9" points="453.5,160.7 456.5,160.7 456.5,177.8 453.5,177.8"/>
<text x="458.8" y="141.8" font-size="6.9" text-anchor="start" font-weight="normal" fill="#111" textLength="19.3" lengthAdjust="spacingAndGlyphs">p21+/+</text>
<text x="458.8" y="169.3" font-size="6.9" text-anchor="start" font-weight="normal" fill="#111" textLength="17" lengthAdjust="spacingAndGlyphs">p21-/-</text>
</svg>
</body></html>
